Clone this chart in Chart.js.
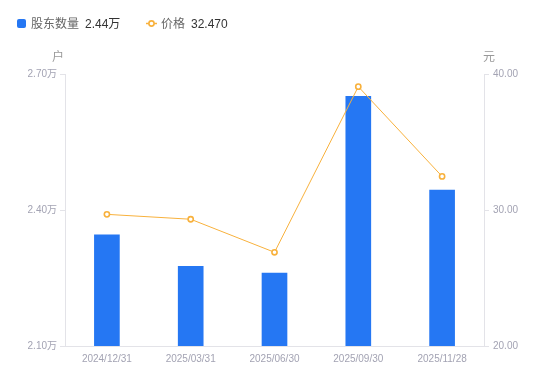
<!DOCTYPE html>
<html><head><meta charset="utf-8">
<script src="https://cdn.jsdelivr.net/npm/chart.js@4"></script>
<style>
html,body{margin:0;padding:0;background:#fff;}
#wrap{position:relative;width:550px;height:381px;font-family:'Liberation Sans','Noto Sans CJK SC',sans-serif;}
canvas{position:absolute;left:0;top:0;}
.lg{position:absolute;top:16px;font-size:12px;line-height:16px;white-space:nowrap;}
.lbl{color:#666;}
.val{color:#333;margin-left:6px;}
</style></head>
<body><div id="wrap">
<canvas id="c" width="550" height="381"></canvas>
<div class="lg" style="left:17px"><span style="display:inline-block;width:9px;height:9px;background:#2577F3;border-radius:2px;vertical-align:-0px;margin-right:5px"></span><span class="lbl" id="l0"></span><span class="val" id="v0"></span></div>
<div class="lg" style="left:146px"><svg width="11" height="9" style="vertical-align:-0px;margin-right:4px"><line x1="0" y1="4.5" x2="11" y2="4.5" stroke="#F8B13C" stroke-width="1.5"/><circle cx="5.5" cy="4.5" r="2.6" fill="#fff" stroke="#F8B13C" stroke-width="1.6"/></svg><span class="lbl" id="l1"></span><span class="val" id="v1"></span></div>
</div>
<script>
const categories = ['2024/12/31','2025/03/31','2025/06/30','2025/09/30','2025/11/28'];
const holders = [2.345, 2.276, 2.261, 2.651, 2.444];
const prices = [29.68, 29.32, 26.89, 39.07, 32.47];
const leftTicks = [2.10, 2.40, 2.70];
const rightTicks = [20, 30, 40];
const seriesNames = ['股东数量', '价格'];
const axisUnits = ['户', '元'];

document.getElementById('l0').textContent = seriesNames[0];
document.getElementById('v0').textContent = holders[holders.length-1].toFixed(2) + '万';
document.getElementById('l1').textContent = seriesNames[1];
document.getElementById('v1').textContent = prices[prices.length-1].toFixed(3);

const FONT = "'Liberation Sans','Noto Sans CJK SC',sans-serif";
const TICK_COLOR = '#A3A3B3';
const AXIS_COLOR = '#E3E3E8';

const unitPlugin = {
  id: 'units',
  afterDraw(chart) {
    const ctx = chart.ctx, a = chart.chartArea;
    ctx.save();
    ctx.font = "12px " + FONT;
    ctx.fillStyle = '#999';
    ctx.textAlign = 'center';
    ctx.textBaseline = 'middle';
    ctx.fillText(axisUnits[0], a.left - 7, a.top - 16);
    ctx.fillText(axisUnits[1], a.right + 5, a.top - 16);
    ctx.restore();
  }
};

new Chart(document.getElementById('c'), {
  data: {
    labels: categories,
    datasets: [
      { type: 'line', label: seriesNames[1], data: prices, yAxisID: 'y1', order: 0,
        borderColor: '#F8B13C', borderWidth: 1, backgroundColor: '#fff',
        pointRadius: 2.6, pointBorderWidth: 1.6, pointBackgroundColor: '#fff', pointBorderColor: '#F8B13C',
        tension: 0 },
      { type: 'bar', label: seriesNames[0], data: holders, yAxisID: 'y', order: 1,
        backgroundColor: '#2577F3', barThickness: 25 }
    ]
  },
  options: {
    responsive: false, animation: false,
    layout: { padding: { top: 74, left: 0, right: 0, bottom: 0 } },
    plugins: { legend: { display: false }, tooltip: { enabled: false } },
    scales: {
      x: {
        offset: true,
        grid: { display: false, drawTicks: false },
        border: { display: true, color: AXIS_COLOR },
        ticks: { color: TICK_COLOR, font: { size: 10, family: FONT }, padding: 7, maxRotation: 0 },
        afterFit(s) { s.height = 35; }
      },
      y: {
        position: 'left', min: leftTicks[0], max: leftTicks[leftTicks.length-1],
        afterBuildTicks(s) { s.ticks = leftTicks.map(v => ({ value: v })); },
        grid: { drawOnChartArea: false, drawTicks: true, tickLength: 5, color: AXIS_COLOR },
        border: { display: true, color: AXIS_COLOR },
        ticks: { color: TICK_COLOR, font: { size: 10, family: FONT }, padding: 3,
          callback: v => Number(v).toFixed(2) + '万' },
        afterFit(s) { s.width = 65; }
      },
      y1: {
        position: 'right', min: rightTicks[0], max: rightTicks[rightTicks.length-1],
        afterBuildTicks(s) { s.ticks = rightTicks.map(v => ({ value: v })); },
        grid: { drawOnChartArea: false, drawTicks: true, tickLength: 5, color: AXIS_COLOR },
        border: { display: true, color: AXIS_COLOR },
        ticks: { color: TICK_COLOR, font: { size: 10, family: FONT }, padding: 4,
          callback: v => Number(v).toFixed(2) },
        afterFit(s) { s.width = 66; }
      }
    }
  },
  plugins: [unitPlugin]
});
</script>
</body></html>
